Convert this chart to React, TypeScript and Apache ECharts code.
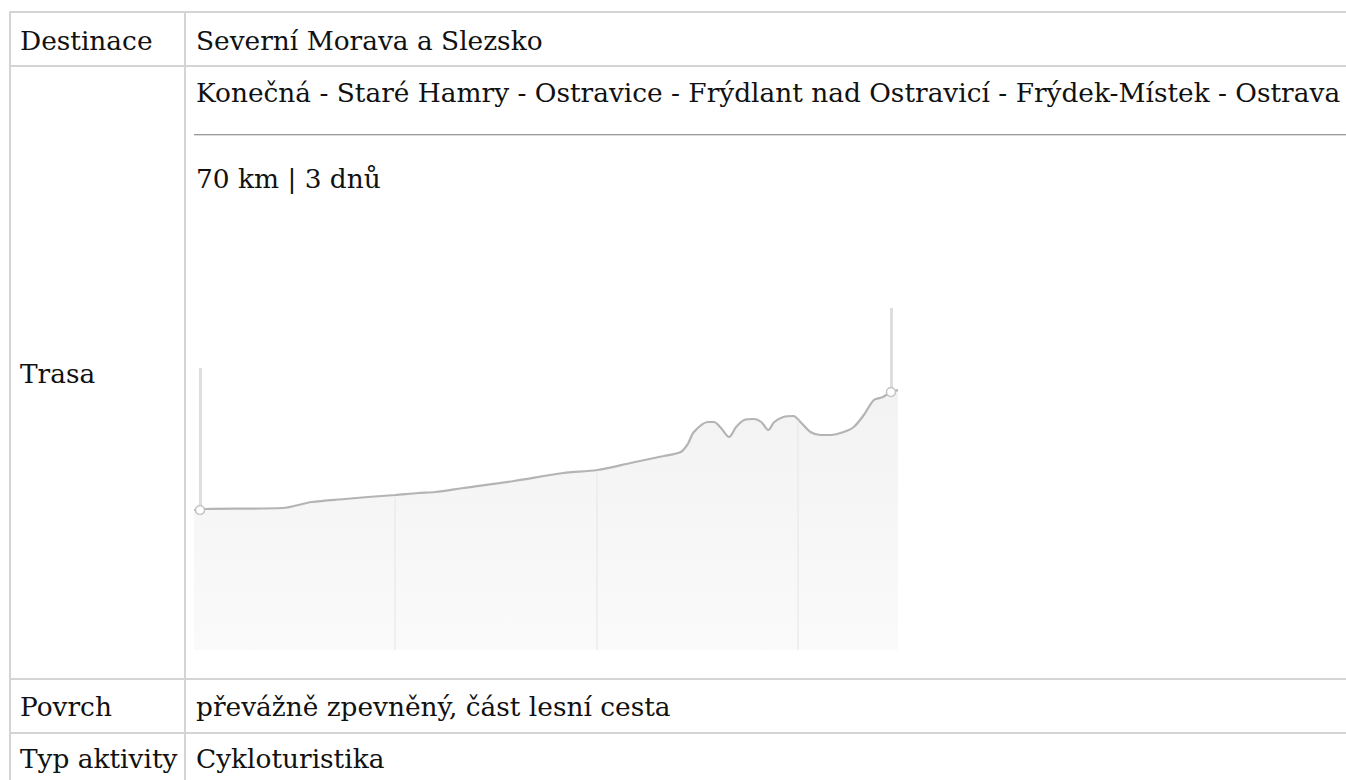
import React, { useEffect, useRef } from "react";
import * as echarts from "echarts";

// Elevation profile data (distance in km, elevation in m)
const distanceKm = [0, 1.1, 8.8, 11.7, 15.0, 17.3, 20.0, 22.3, 24.0, 26.8, 31.8, 36.7, 40.1, 43.4, 46.7, 48.4, 49.1, 49.7, 51.1, 51.7, 52.4, 53.2, 53.9, 54.7, 55.7, 56.4, 57.1, 57.7, 58.6, 59.6, 60.3, 61.3, 62.3, 63.3, 64.6, 65.6, 66.6, 67.6, 68.5, 69.3, 70];
const elevationM = [280, 282, 284, 296, 302, 306, 310, 314, 316, 324, 338, 354, 360, 374, 388, 396, 412, 436, 456, 456, 444, 426, 446, 460, 462, 456, 440, 456, 466, 468, 456, 436, 430, 430, 436, 446, 470, 500, 506, 516, 520];
// Start / end waypoint markers: [km, elevation, top of pin line]
const markerKm = [0.6, 69.3];
const markerElev = [280, 516];
const markerTop = [564, 684];
const xGridKm = [20, 40, 60];

const rows = [
  { label: "Destinace", value: "Severní Morava a Slezsko" },
  { label: "Povrch", value: "převážně zpevněný, část lesní cesta" },
  { label: "Typ aktivity", value: "Cykloturistika" },
];
const routeText = "Konečná - Staré Hamry - Ostravice - Frýdlant nad Ostravicí - Frýdek-Místek - Ostrava";
const routeStats = "70 km | 3 dnů";

const FONT = "'DejaVu Serif', serif";
const FS = 26.4;
const BORDER = "#d4d4d4";

function elevAt(km: number) {
  for (let i = 1; i < distanceKm.length; i++) {
    if (km <= distanceKm[i]) {
      const t = (km - distanceKm[i - 1]) / (distanceKm[i] - distanceKm[i - 1]);
      return elevationM[i - 1] + t * (elevationM[i] - elevationM[i - 1]);
    }
  }
  return elevationM[elevationM.length - 1];
}

function Chart() {
  const ref = useRef<HTMLDivElement>(null);
  useEffect(() => {
    if (!ref.current) return;
    const chart = echarts.init(ref.current, undefined, { renderer: "svg" });
    chart.setOption({
      animation: false,
      grid: { left: 0, right: 0, top: 0, bottom: 0 },
      xAxis: {
        type: "value",
        min: 0,
        max: 70,
        interval: 20,
        axisLine: { show: false },
        axisTick: { show: false },
        axisLabel: { show: false },
        splitLine: { show: false },
      },
      yAxis: {
        type: "value",
        min: 0,
        max: 800,
        axisLine: { show: false },
        axisTick: { show: false },
        axisLabel: { show: false },
        splitLine: { show: false },
      },
      series: [
        {
          type: "line",
          data: distanceKm.map((d, i) => [d, elevationM[i]]),
          smooth: 0.3,
          showSymbol: false,
          lineStyle: { color: "#b4b4b4", width: 2.2 },
          areaStyle: {
            color: new echarts.graphic.LinearGradient(0, 0, 0, 1, [
              { offset: 0, color: "#ededed" },
              { offset: 1, color: "#f8f8f8" },
            ]),
          },
          markLine: {
            silent: true,
            symbol: ["none", "none"],
            label: { show: false },
            data: [
              ...xGridKm.map((k) => [
                { coord: [k, 0], lineStyle: { color: "#ebebeb", width: 1.5, type: "solid" } },
                { coord: [k, elevAt(k) - 2] },
              ]),
              ...markerKm.map((k, i) => [
                { coord: [k, markerElev[i]], lineStyle: { color: "#dedede", width: 3, type: "solid" } },
                { coord: [k, markerTop[i]] },
              ]),
            ],
          },
          markPoint: {
            silent: true,
            symbol: "circle",
            symbolSize: 9,
            label: { show: false },
            itemStyle: { color: "#ffffff", borderColor: "#c4c4c4", borderWidth: 1.5 },
            data: markerKm.map((k, i) => ({ coord: [k, markerElev[i]] })),
          },
        },
      ],
    });
    return () => chart.dispose();
  }, []);
  return <div ref={ref} style={{ position: "absolute", left: 194, top: 250, width: 704, height: 400 }} />;
}

function Text({ x, baseline, children }: { x: number; baseline: number; children: React.ReactNode }) {
  return (
    <div
      style={{
        position: "absolute",
        left: x,
        top: baseline - Math.round(FS * 0.847),
        fontFamily: FONT,
        fontSize: FS,
        lineHeight: `${FS}px`,
        whiteSpace: "nowrap",
        color: "#111",
      }}
    >
      {children}
    </div>
  );
}

export default function App() {
  const hLines = [11, 65, 678, 732];
  return (
    <div style={{ position: "absolute", left: 0, top: 0, width: 1346, height: 780, overflow: "hidden", background: "#fff" }}>
      {hLines.map((y) => (
        <div key={y} style={{ position: "absolute", left: 10, top: y, width: 1400, height: 2, background: BORDER }} />
      ))}
      <div style={{ position: "absolute", left: 9, top: 11, width: 2, height: 800, background: BORDER }} />
      <div style={{ position: "absolute", left: 184, top: 11, width: 2, height: 800, background: BORDER }} />

      <Text x={20} baseline={50}>{rows[0].label}</Text>
      <Text x={196} baseline={50}>{rows[0].value}</Text>

      <Text x={196} baseline={102}>{routeText}</Text>
      <div style={{ position: "absolute", left: 194, top: 134, width: 1200, height: 1, background: "#9a9a9a" }} />
      <div style={{ position: "absolute", left: 194, top: 135, width: 1200, height: 1, background: "#dcdcdc" }} />
      <Text x={196} baseline={188}>{routeStats}</Text>

      <Text x={20} baseline={383}>Trasa</Text>
      <Chart />

      <Text x={20} baseline={716}>{rows[1].label}</Text>
      <Text x={196} baseline={716}>{rows[1].value}</Text>
      <Text x={20} baseline={768}>{rows[2].label}</Text>
      <Text x={196} baseline={768}>{rows[2].value}</Text>
    </div>
  );
}
